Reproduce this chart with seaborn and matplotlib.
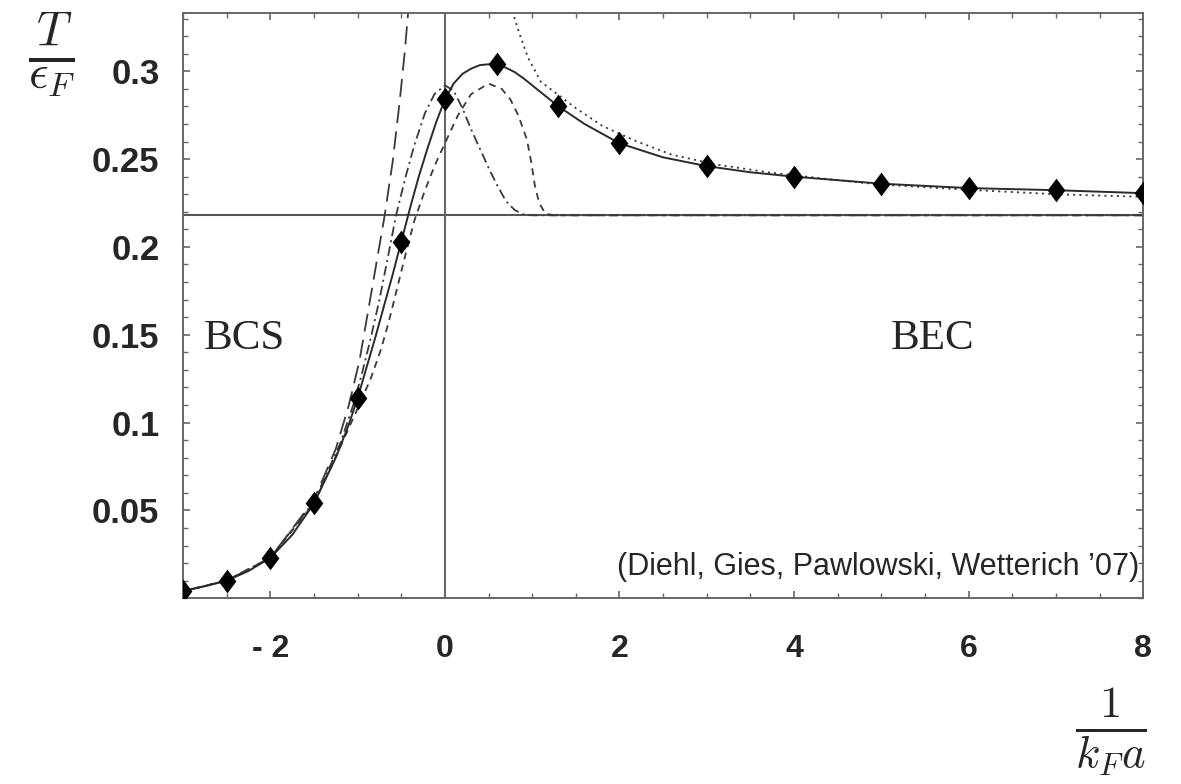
import matplotlib
matplotlib.use("Agg")
import matplotlib.pyplot as plt
import seaborn as sns
from matplotlib import font_manager
from matplotlib.ticker import FixedLocator, MultipleLocator

# ---------------- data ----------------
diamond_x = [-3, -2.5, -2, -1.5, -1, -0.5, 0, 0.6, 1.3, 2, 3, 4, 5, 6, 7, 8]
diamond_T = [0.004, 0.010, 0.023, 0.054, 0.114, 0.203, 0.284, 0.304, 0.280,
             0.259, 0.246, 0.240, 0.236, 0.2335, 0.2323, 0.2306]

solid_x = [-3, -2.75, -2.5, -2.25, -2, -1.75, -1.5, -1.25, -1.1, -1, -0.9,
           -0.8, -0.7, -0.6, -0.5, -0.4, -0.3, -0.2, -0.1, 0, 0.1, 0.2, 0.3,
           0.4, 0.5, 0.6, 0.7, 0.8, 0.9, 1.0, 1.15, 1.3, 1.6, 2, 2.5, 3, 3.5,
           4, 5, 6, 7, 8]
solid_T = [0.004, 0.0068, 0.010, 0.0155, 0.023, 0.036, 0.054, 0.080, 0.099,
           0.114, 0.131, 0.148, 0.166, 0.184, 0.203, 0.222, 0.240, 0.256,
           0.271, 0.284, 0.293, 0.2985, 0.3015, 0.3035, 0.304, 0.304, 0.302,
           0.2995, 0.296, 0.292, 0.286, 0.280, 0.270, 0.259, 0.251, 0.246,
           0.2425, 0.240, 0.236, 0.2335, 0.2323, 0.2306]

longdash_x = [-3, -2.5, -2, -1.5, -1.25, -1.1, -0.98, -0.92, -0.85, -0.77,
              -0.69, -0.6, -0.52, -0.46, -0.41]
longdash_T = [0.004, 0.010, 0.023, 0.056, 0.085, 0.110, 0.135, 0.152, 0.172,
              0.195, 0.218, 0.248, 0.282, 0.311, 0.340]

dashdot_x = [-3, -2.5, -2, -1.5, -1.2, -1.05, -0.95, -0.85, -0.75, -0.65,
             -0.56, -0.45, -0.35, -0.23, -0.12, 0.0, 0.1, 0.2, 0.3, 0.4, 0.5,
             0.6, 0.7, 0.8, 0.9, 1.0, 8.0]
dashdot_T = [0.004, 0.010, 0.023, 0.055, 0.088, 0.110, 0.128, 0.148, 0.170,
             0.195, 0.218, 0.240, 0.258, 0.276, 0.287, 0.292, 0.289, 0.279,
             0.267, 0.256, 0.245, 0.235, 0.226, 0.221, 0.2185, 0.218, 0.218]

shortdash_x = [-3, -2.5, -2, -1.5, -1.2, -1.0, -0.85, -0.73, -0.64, -0.55,
               -0.45, -0.35, -0.23, -0.12, 0.0, 0.15, 0.3, 0.5, 0.65, 0.75,
               0.84, 0.94, 0.99, 1.03, 1.08, 1.15, 1.25, 8.0]
shortdash_T = [0.004, 0.010, 0.023, 0.054, 0.086, 0.108, 0.125, 0.142, 0.158,
               0.176, 0.196, 0.215, 0.232, 0.246, 0.259, 0.275, 0.287, 0.293,
               0.290, 0.284, 0.275, 0.261, 0.248, 0.235, 0.225, 0.219, 0.218,
               0.218]

dotted_x = [0.72, 0.78, 0.85, 0.95, 1.1, 1.3, 1.5, 1.8, 2.2, 2.6, 3.1, 3.7,
            4.5, 5, 6, 7, 8]
dotted_T = [0.345, 0.333, 0.322, 0.308, 0.294, 0.2865, 0.279, 0.269, 0.260,
            0.2525, 0.247, 0.2425, 0.238, 0.2355, 0.2325, 0.230, 0.2285]

bec_limit = 0.218
x_ticks = [-2, 0, 2, 4, 6, 8]
x_ticklabels = ["- 2", "0", "2", "4", "6", "8"]
y_ticks = [0.05, 0.1, 0.15, 0.2, 0.25, 0.3]
y_ticklabels = ["0.05", "0.1", "0.15", "0.2", "0.25", "0.3"]
citation = "(Diehl, Gies, Pawlowski, Wetterich \u201907)"

# ---------------- style ----------------
sns.set_style("ticks")
plt.rcParams["font.family"] = ["Liberation Sans", "DejaVu Sans"]
plt.rcParams["mathtext.fontset"] = "cm"
plt.rcParams["lines.scale_dashes"] = False

names = {f.name for f in font_manager.fontManager.ttflist}
narrow = "Liberation Sans Narrow" if "Liberation Sans Narrow" in names else "Liberation Sans"

fig = plt.figure(figsize=(11.81, 7.84), dpi=100)
ax = fig.add_axes([0.155, 0.237, 0.813, 0.746])

line_col = "#3a3a3a"
sns.lineplot(x=longdash_x, y=longdash_T, ax=ax, color=line_col, linewidth=1.3,
             linestyle=(0, (13, 6)), estimator=None, sort=False, legend=False)
sns.lineplot(x=dashdot_x, y=dashdot_T, ax=ax, color=line_col, linewidth=1.3,
             linestyle=(0, (7, 3, 1.5, 3)), estimator=None, sort=False, legend=False)
sns.lineplot(x=shortdash_x, y=shortdash_T, ax=ax, color=line_col, linewidth=1.3,
             linestyle=(0, (5, 4)), estimator=None, sort=False, legend=False)
sns.lineplot(x=dotted_x, y=dotted_T, ax=ax, color=line_col, linewidth=1.3,
             linestyle=(0, (1.5, 3)), estimator=None, sort=False, legend=False)
sns.lineplot(x=solid_x, y=solid_T, ax=ax, color="#2a2a2a", linewidth=1.4,
             estimator=None, sort=False, legend=False)

ax.axhline(bec_limit, color="#555555", linewidth=1.5, zorder=1)
ax.axvline(0, color="#666666", linewidth=1.5, zorder=1)

diamond = [(0, 1), (0.75, 0), (0, -1), (-0.75, 0), (0, 1)]
sns.scatterplot(x=diamond_x, y=diamond_T, ax=ax, marker=diamond, s=290,
                color="black", linewidth=0, zorder=5, legend=False)

ax.set_xlim(-3, 8)
ax.set_ylim(0, 0.333)
ax.xaxis.set_major_locator(FixedLocator(x_ticks))
ax.xaxis.set_minor_locator(MultipleLocator(0.5))
ax.yaxis.set_major_locator(FixedLocator(y_ticks))
ax.yaxis.set_minor_locator(MultipleLocator(0.01))
ax.set_xticklabels(x_ticklabels, fontfamily=narrow, fontweight="bold", fontsize=23)
ax.set_yticklabels(y_ticklabels, fontweight="bold", fontsize=25)

ax.tick_params(which="both", direction="in", top=True, right=True, color="#666666")
ax.tick_params(axis="x", which="major", length=5, width=1.2, pad=26)
ax.tick_params(axis="y", which="major", length=5, width=1.2, pad=17)
ax.tick_params(which="minor", length=3.5, width=1.0)
for sp in ax.spines.values():
    sp.set_color("#666666")
    sp.set_linewidth(1.4)

ax.text(-2.3, 0.148, "BCS", fontfamily="Liberation Serif", fontsize=31,
        ha="center", va="center")
ax.text(5.59, 0.148, "BEC", fontfamily="Liberation Serif", fontsize=31,
        ha="center", va="center")
ax.text(7.95, 0.018, citation, fontfamily=narrow, fontsize=22,
        ha="right", va="center")

fig.text(0.044, 0.93, r"$\frac{T}{\epsilon_F}$", fontsize=50, ha="center", va="center")
fig.text(0.941, 0.066, r"$\frac{1}{k_F a}$", fontsize=46, ha="center", va="center")

fig.savefig("out.png", dpi=100)
